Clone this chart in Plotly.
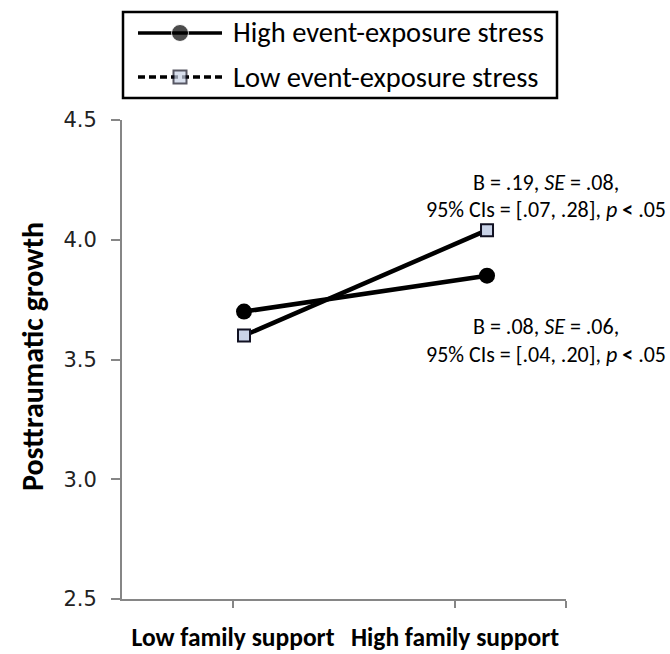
import plotly.graph_objects as go

# Interaction plot: posttraumatic growth by family support and event-exposure stress
support_levels = ["Low family support", "High family support"]
series_names = ["High event-exposure stress", "Low event-exposure stress"]
high_stress = [3.70, 3.85]
low_stress = [3.60, 4.04]

y_ticks = [2.5, 3.0, 3.5, 4.0, 4.5]

stats_high_support = ["B = .19, <i>SE</i> = .08,",
                      "95% CIs = [.07, .28], <i>p</i> <b>&lt;</b> .05"]
stats_low_stress = ["B = .08, <i>SE</i> = .06,",
                    "95% CIs = [.04, .20], <i>p</i> <b>&lt;</b> .05"]

W, H = 670, 654
TEXT_FONT = "Carlito, Calibri, Lato, sans-serif"
AXIS_GREY = "#868686"
SQUARE_FILL = "#c9d3e8"


def px_x(p):
    return p / W


def px_y(p):
    return (H - p) / H


fig = go.Figure()

# empty trace so the labelled category axis gets its own subplot
fig.add_trace(go.Scatter(x=[], y=[], xaxis="x", yaxis="y",
                         showlegend=False, hoverinfo="skip"))

# data lines (plotted on an overlay category axis)
fig.add_trace(go.Scatter(
    x=support_levels, y=high_stress, xaxis="x2", yaxis="y",
    mode="lines+markers", showlegend=False,
    line=dict(color="black", width=4.5),
    marker=dict(symbol="circle", size=16, color="black"),
))
fig.add_trace(go.Scatter(
    x=support_levels, y=low_stress, xaxis="x2", yaxis="y",
    mode="lines+markers", showlegend=False,
    line=dict(color="black", width=4.5),
    marker=dict(symbol="square", size=12, color=SQUARE_FILL,
                line=dict(color="#111122", width=2)),
))

# key samples (small subplot inside the key box)
key_rows = [1, 0]
key_styles = [
    dict(line=dict(color="black", width=3.5),
         marker=dict(symbol="circle", size=[0, 17, 0], color="black")),
    dict(line=dict(color="black", width=3.5, dash="7px,4px"),
         marker=dict(symbol="square", size=[0, 13, 0], color=SQUARE_FILL,
                     line=dict(color="#111122", width=2))),
]
for row, style in zip(key_rows, key_styles):
    fig.add_trace(go.Scatter(
        x=[0, 0.5, 1], y=[row, row, row], xaxis="x3", yaxis="y3",
        mode="lines+markers", showlegend=False, hoverinfo="skip", **style,
    ))

annotations = []
for name, row in zip(series_names, key_rows):
    annotations.append(dict(
        text=name, x=px_x(231), xref="paper", xanchor="left",
        y=row, yref="y3", yanchor="middle", showarrow=False,
        font=dict(family=TEXT_FONT, size=28.5, color="black"),
    ))

for lines, tops in ((stats_high_support, (182, 210)), (stats_low_stress, (326, 354))):
    for line, ypix in zip(lines, tops):
        annotations.append(dict(
            text=line, x=px_x(546), xref="paper", xanchor="center",
            y=px_y(ypix), yref="paper", yanchor="middle", showarrow=False,
            font=dict(family=TEXT_FONT, size=22, color="black"),
        ))

annotations.append(dict(
    text="<b>Posttraumatic growth</b>", textangle=-90,
    x=px_x(33), xref="paper", xanchor="center",
    y=px_y(357), yref="paper", yanchor="middle", showarrow=False,
    font=dict(family=TEXT_FONT, size=30, color="black"),
))

fig.update_layout(
    width=W, height=H,
    margin=dict(l=0, r=0, t=0, b=0, autoexpand=False),
    paper_bgcolor="white", plot_bgcolor="white",
    showlegend=False,
    annotations=annotations,
    shapes=[dict(type="rect", xref="paper", yref="paper",
                 x0=px_x(123), x1=px_x(557), y0=px_y(98), y1=px_y(12),
                 line=dict(color="black", width=2.5))],
    xaxis=dict(
        domain=[px_x(122), px_x(566)], anchor="y", automargin=False,
        range=[-0.5, 1.5], tickmode="array",
        tickvals=[0, 1, 1.5], ticktext=support_levels + [""],
        showline=True, linecolor=AXIS_GREY, linewidth=2,
        ticks="outside", ticklen=7, tickwidth=2, tickcolor=AXIS_GREY,
        showgrid=False, zeroline=False, ticklabelstandoff=7,
        tickfont=dict(family=TEXT_FONT, size=25.5, color="black", weight="bold"),
    ),
    xaxis2=dict(
        domain=[px_x(122), px_x(566)], anchor="y", overlaying="x",
        automargin=False,
        type="category", range=[-0.502, 1.325], visible=False,
    ),
    yaxis=dict(
        domain=[px_y(599), px_y(120)], anchor="x", automargin=False,
        range=[2.5, 4.5], tickmode="array", tickvals=y_ticks,
        tickformat=".1f",
        showline=True, linecolor=AXIS_GREY, linewidth=2,
        ticks="outside", ticklen=9, tickwidth=2, tickcolor=AXIS_GREY,
        showgrid=False, zeroline=False, ticklabelstandoff=10,
        tickfont=dict(family="DejaVu Sans", size=21, color="#222222"),
    ),
    xaxis3=dict(domain=[px_x(138), px_x(222)], anchor="y3", automargin=False,
                range=[0, 1], visible=False),
    yaxis3=dict(domain=[px_y(98), px_y(12)], anchor="x3", automargin=False,
                range=[-0.477, 1.477], visible=False),
)

fig.write_html("out.html")
